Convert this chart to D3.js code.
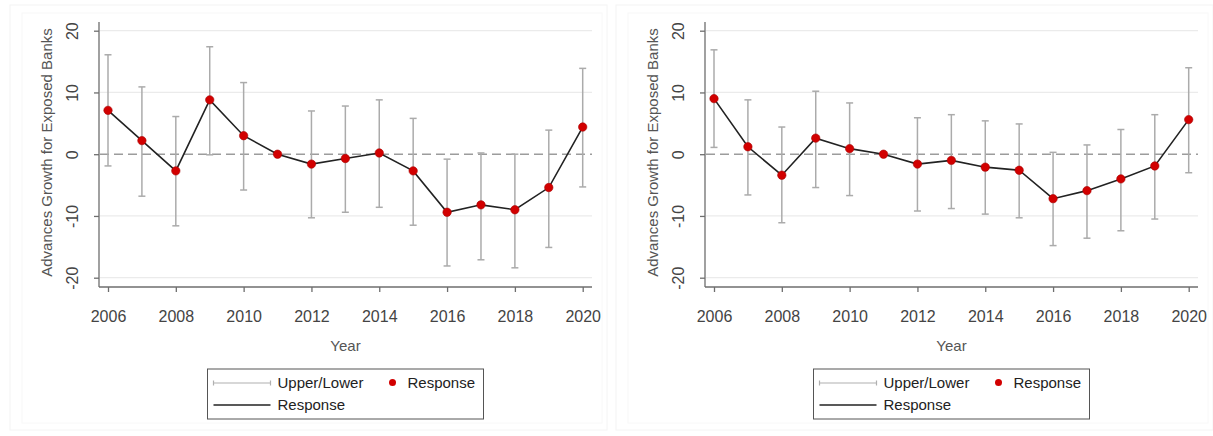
<!DOCTYPE html>
<html>
<head>
<meta charset="utf-8">
<script src="https://cdn.jsdelivr.net/npm/d3@7"></script>
<style>
  html, body { margin: 0; padding: 0; background: #ffffff; }
  svg { display: block; font-family: "Liberation Sans", Arial, Helvetica, sans-serif; }
</style>
</head>
<body>
<svg id="chart" width="1213" height="436"></svg>
<script>
// Event-study estimates by year, two specifications
const years = [2006, 2007, 2008, 2009, 2010, 2011, 2012, 2013, 2014, 2015, 2016, 2017, 2018, 2019, 2020];
const xTickLabels = [2006, 2008, 2010, 2012, 2014, 2016, 2018, 2020];
const yTickLabels = [-20, -10, 0, 10, 20];

const leftResponse = [7.1, 2.2, -2.7, 8.8, 3.0, 0, -1.6, -0.7, 0.2, -2.7, -9.4, -8.2, -9.0, -5.4, 4.4];
const leftUpper    = [16.1, 10.9, 6.1, 17.4, 11.6, 0, 7.0, 7.8, 8.8, 5.8, -0.8, 0.2, 0.0, 3.9, 13.9];
const leftLower    = [-1.9, -6.8, -11.6, -0.1, -5.8, 0, -10.3, -9.4, -8.6, -11.5, -18.1, -17.1, -18.4, -15.1, -5.3];

const rightResponse = [9.0, 1.2, -3.4, 2.6, 0.9, 0, -1.6, -1.0, -2.1, -2.6, -7.2, -5.9, -4.0, -1.9, 5.6];
const rightUpper    = [16.9, 8.8, 4.4, 10.2, 8.3, 0, 5.9, 6.4, 5.4, 4.9, 0.3, 1.5, 4.0, 6.4, 14.0];
const rightLower    = [1.1, -6.6, -11.1, -5.4, -6.7, 0, -9.2, -8.8, -9.7, -10.3, -14.8, -13.6, -12.4, -10.5, -3.0];

const yTitle = "Advances Growth for Exposed Banks";
const xTitle = "Year";

const svg = d3.select("#chart");

function drawPanel(opts) {
  const { left, response, upper, lower } = opts;
  const g = svg.append("g").attr("transform", `translate(${left},0)`);

  // faint outer frames of the graph region
  g.append("rect").attr("x", 10).attr("y", 5).attr("width", 597).attr("height", 425)
    .attr("fill", "none").attr("stroke", "#f4f4f4").attr("stroke-width", 1);
  g.append("rect").attr("x", 22).attr("y", 13).attr("width", 580).attr("height", 410)
    .attr("fill", "none").attr("stroke", "#f8f8f8").attr("stroke-width", 1);

  const axisX = 99, plotRight = 592, axisY = 287, axisTop = 22;
  const x = d3.scaleLinear().domain([2006, 2020]).range([108, 582.7]);
  const y = d3.scaleLinear().domain([-20, 20]).range([277.7, 30.7]);

  // gridlines
  g.append("g").selectAll("line")
    .data(yTickLabels.filter(v => v !== 0))
    .join("line")
    .attr("x1", axisX + 1).attr("x2", plotRight)
    .attr("y1", d => y(d)).attr("y2", d => y(d))
    .attr("stroke", "#ebebeb").attr("stroke-width", 1.2);

  // zero reference line
  g.append("line")
    .attr("x1", axisX + 1).attr("x2", plotRight)
    .attr("y1", y(0)).attr("y2", y(0))
    .attr("stroke", "#9c9c9c").attr("stroke-width", 1.6)
    .attr("stroke-dasharray", "9,5");

  // axes lines
  g.append("line").attr("x1", axisX).attr("x2", axisX).attr("y1", axisTop).attr("y2", axisY)
    .attr("stroke", "#6e6e6e").attr("stroke-width", 1.3);
  g.append("line").attr("x1", axisX).attr("x2", plotRight).attr("y1", axisY).attr("y2", axisY)
    .attr("stroke", "#6e6e6e").attr("stroke-width", 1.3);

  // x axis
  const xAxis = g.append("g").attr("transform", `translate(0,${axisY})`)
    .call(d3.axisBottom(x).tickValues(xTickLabels).tickFormat(d => String(d)).tickSize(5).tickPadding(0));
  xAxis.select(".domain").remove();
  xAxis.selectAll(".tick line").attr("stroke", "#6e6e6e").attr("stroke-width", 1.3);
  xAxis.selectAll(".tick text")
    .attr("y", 35).attr("dy", null)
    .attr("fill", "#444").style("font-size", "16px");

  // y axis (plain hyphen for negatives)
  const yAxis = g.append("g").attr("transform", `translate(${axisX},0)`)
    .call(d3.axisLeft(y).tickValues(yTickLabels).tickFormat(d => String(d)).tickSize(5).tickPadding(0));
  yAxis.select(".domain").remove();
  yAxis.selectAll(".tick line").attr("stroke", "#6e6e6e").attr("stroke-width", 1.3);
  yAxis.selectAll(".tick text")
    .attr("x", 0).attr("dy", null)
    .attr("y", -21.5)
    .attr("transform", "rotate(-90)")
    .attr("text-anchor", "middle")
    .attr("fill", "#444").style("font-size", "16px");

  // axis titles
  g.append("text")
    .attr("transform", `translate(${axisX - 47},${(axisTop + axisY) / 2 - 2}) rotate(-90)`)
    .attr("text-anchor", "middle")
    .attr("fill", "#555").style("font-size", "15px")
    .text(yTitle);
  g.append("text")
    .attr("x", (axisX + plotRight) / 2).attr("y", 351)
    .attr("text-anchor", "middle")
    .attr("fill", "#555").style("font-size", "15px")
    .text(xTitle);

  // error bars
  const rows = years.map((yr, i) => ({ yr, r: response[i], hi: upper[i], lo: lower[i] }));
  const bars = g.append("g").selectAll("g").data(rows.filter(d => d.hi !== d.lo)).join("g")
    .attr("stroke", "#ababab").attr("stroke-width", 1.5);
  bars.append("line")
    .attr("x1", d => x(d.yr)).attr("x2", d => x(d.yr))
    .attr("y1", d => y(d.hi)).attr("y2", d => y(d.lo));
  bars.append("line")
    .attr("x1", d => x(d.yr) - 3.5).attr("x2", d => x(d.yr) + 3.5)
    .attr("y1", d => y(d.hi)).attr("y2", d => y(d.hi));
  bars.append("line")
    .attr("x1", d => x(d.yr) - 3.5).attr("x2", d => x(d.yr) + 3.5)
    .attr("y1", d => y(d.lo)).attr("y2", d => y(d.lo));

  // response line
  g.append("path").datum(rows)
    .attr("fill", "none").attr("stroke", "#222").attr("stroke-width", 1.6)
    .attr("d", d3.line().x(d => x(d.yr)).y(d => y(d.r)));

  // response points
  g.append("g").selectAll("circle").data(rows).join("circle")
    .attr("cx", d => x(d.yr)).attr("cy", d => y(d.r)).attr("r", 4.2)
    .attr("fill", "#d20000").attr("stroke", "#a80000").attr("stroke-width", 0.6);

  // legend
  const lx = (axisX + plotRight) / 2 - 138, ly = 369;
  const lg = g.append("g");
  lg.append("rect").attr("x", lx).attr("y", ly).attr("width", 276).attr("height", 50)
    .attr("fill", "#fff").attr("stroke", "#555").attr("stroke-width", 1);
  const s1 = lg.append("g").attr("stroke", "#b0b0b0").attr("stroke-width", 1.2);
  s1.append("line").attr("x1", lx + 6).attr("x2", lx + 63).attr("y1", ly + 14).attr("y2", ly + 14);
  s1.append("line").attr("x1", lx + 6).attr("x2", lx + 6).attr("y1", ly + 11.5).attr("y2", ly + 16.5);
  s1.append("line").attr("x1", lx + 63).attr("x2", lx + 63).attr("y1", ly + 11.5).attr("y2", ly + 16.5);
  lg.append("text").attr("x", lx + 70).attr("y", ly + 19).attr("fill", "#222")
    .style("font-size", "15px").text("Upper/Lower");
  lg.append("circle").attr("cx", lx + 185).attr("cy", ly + 13.5).attr("r", 3.5).attr("fill", "#d20000");
  lg.append("text").attr("x", lx + 200).attr("y", ly + 19).attr("fill", "#222")
    .style("font-size", "15px").text("Response");
  lg.append("line").attr("x1", lx + 6).attr("x2", lx + 63).attr("y1", ly + 36).attr("y2", ly + 36)
    .attr("stroke", "#222").attr("stroke-width", 1.6);
  lg.append("text").attr("x", lx + 70).attr("y", ly + 41).attr("fill", "#222")
    .style("font-size", "15px").text("Response");
}

drawPanel({ left: 0, response: leftResponse, upper: leftUpper, lower: leftLower });
drawPanel({ left: 606, response: rightResponse, upper: rightUpper, lower: rightLower });
</script>
</body>
</html>
